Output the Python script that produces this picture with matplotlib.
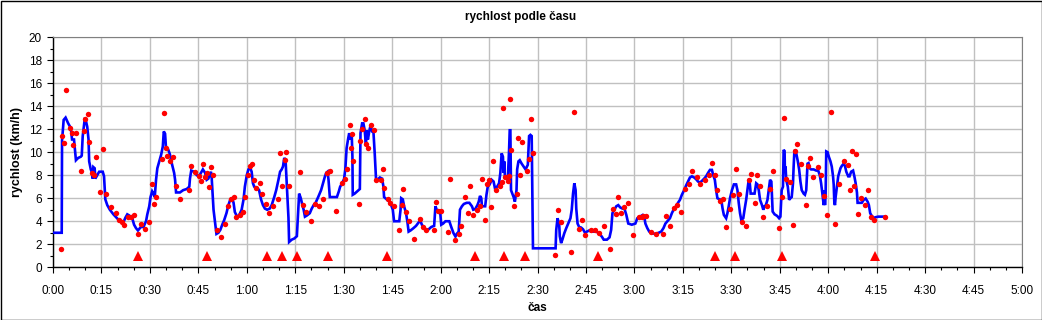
import matplotlib
matplotlib.use("Agg")
import matplotlib.pyplot as plt
from matplotlib.ticker import MultipleLocator, FuncFormatter
from matplotlib.patches import Rectangle

plt.rcParams['font.family'] = ['Liberation Sans', 'DejaVu Sans']

# ---- data: time in minutes, speed in km/h ----
line_points = [
    (0, 3.0), (2.7, 3.0), (2.8, 11.0), (3.3, 12.8), (3.9, 13.0), (4.7, 12.5), (5.5, 12.1), (5.9, 11.1),
    (6.5, 11.1), (7.1, 9.3), (7.8, 9.5), (8.6, 9.6), (8.9, 9.7), (9.2, 11.4), (9.8, 12.8), (10.2, 12.7),
    (10.6, 12.2), (11.0, 11.1), (11.2, 9.2), (11.7, 8.5), (12.1, 8.2), (12.3, 7.7), (12.5, 8.7), (12.9, 8.6),
    (13.1, 7.7), (13.5, 7.9), (14.3, 8.3), (15.4, 8.3), (15.8, 7.9), (16.2, 5.9), (16.8, 5.4), (17.6, 5.0),
    (18.7, 4.6), (19.7, 4.3), (20.7, 4.0), (21.8, 3.9), (22.4, 4.3), (23.0, 4.6), (23.6, 4.5), (24.5, 4.3),
    (25.1, 3.7), (25.7, 3.4), (26.3, 3.2), (27.2, 3.5), (28.0, 3.5), (28.8, 4.0), (29.2, 4.6), (29.8, 5.3),
    (30.2, 6.1), (30.7, 6.6), (31.1, 6.4), (31.5, 6.1), (31.9, 7.6), (32.3, 8.6), (32.9, 9.2), (33.5, 9.8),
    (34.0, 10.5), (34.3, 11.8), (34.7, 11.6), (35.0, 10.3), (35.7, 10.2), (36.2, 9.8), (36.8, 9.0), (37.5, 8.2),
    (37.8, 7.6), (38.1, 6.5), (39.3, 6.5), (40.3, 6.7), (41.4, 6.8), (42.2, 7.0), (42.4, 7.7), (42.8, 8.4),
    (43.7, 8.3), (44.5, 8.0), (45.2, 7.9), (45.8, 8.2), (46.4, 8.5), (47.1, 8.2), (47.6, 7.6), (48.1, 7.7),
    (48.5, 8.0), (48.9, 8.3), (49.1, 7.9), (49.4, 6.4), (49.7, 5.0), (50.2, 3.8), (50.6, 2.9), (51.2, 3.0),
    (51.8, 3.25), (52.4, 3.7), (53.0, 4.1), (53.7, 4.7), (54.3, 5.4), (54.9, 5.9), (55.5, 6.0), (55.9, 5.6),
    (56.3, 4.8), (57.0, 4.4), (57.6, 4.5), (58.4, 5.0), (59.0, 5.9), (59.4, 7.0), (60.0, 8.0), (60.5, 8.5),
    (61.1, 8.6), (61.5, 8.3), (61.9, 7.3), (62.3, 7.0), (63.2, 6.9), (63.8, 6.7), (64.4, 5.9), (65.0, 5.4),
    (65.6, 5.1), (66.3, 5.0), (67.1, 5.1), (67.7, 5.4), (68.5, 6.1), (69.1, 6.7), (69.8, 7.6), (70.3, 8.3),
    (70.8, 8.5), (71.2, 8.75), (71.6, 9.5), (72.0, 9.3), (72.4, 7.0), (72.9, 4.3), (73.1, 2.2), (73.9, 2.4),
    (74.7, 2.5), (75.5, 2.7), (75.7, 3.8), (76.2, 6.4), (76.6, 6.1), (76.8, 5.9), (77.2, 5.4), (77.6, 5.0),
    (78.0, 4.4), (78.6, 4.5), (79.5, 4.7), (80.1, 5.1), (80.7, 5.4), (81.3, 5.6), (82.1, 6.1), (83.0, 6.7),
    (83.6, 7.3), (84.2, 7.9), (84.6, 8.2), (85.0, 8.3), (85.3, 7.6), (85.7, 6.1), (87.9, 6.1), (88.5, 6.6),
    (88.9, 7.0), (89.5, 7.3), (90.1, 7.65), (90.5, 8.5), (90.9, 10.35), (91.4, 11.2), (91.7, 11.65), (92.1, 11.1),
    (92.5, 11.4), (92.7, 9.6), (92.8, 6.3), (93.4, 6.4), (94.2, 6.6), (95.0, 6.8), (95.2, 11.65), (95.7, 12.5),
    (96.1, 12.5), (96.5, 11.9), (96.9, 10.6), (97.1, 11.9), (97.5, 11.1), (97.9, 11.8), (98.3, 12.3), (98.8, 11.8),
    (99.2, 11.8), (99.6, 9.9), (100.0, 7.7), (100.6, 7.65), (101.2, 7.8), (101.9, 7.7), (102.3, 7.0), (102.5, 6.1),
    (103.3, 5.9), (104.1, 5.7), (104.7, 5.4), (105.2, 5.0), (105.6, 4.0), (106.6, 4.0), (107.2, 4.0), (107.6, 5.0),
    (107.8, 6.0), (108.3, 5.9), (108.7, 5.3), (109.3, 4.7), (109.7, 4.0), (110.1, 3.1), (110.7, 3.2), (111.6, 3.4),
    (112.4, 3.6), (113.2, 3.9), (113.8, 4.0), (114.2, 3.7), (114.9, 3.4), (115.5, 3.25), (116.3, 3.3), (117.1, 3.5),
    (118.0, 3.6), (118.4, 5.3), (118.8, 5.0), (119.4, 4.8), (119.8, 5.0), (120.2, 3.7), (120.8, 3.8), (121.5, 4.0),
    (122.1, 4.0), (122.7, 4.0), (123.3, 3.5), (124.0, 2.96), (124.6, 2.67), (125.0, 2.9), (125.6, 3.1), (126.0, 5.0),
    (126.6, 5.3), (127.2, 5.5), (128.1, 5.6), (128.9, 5.6), (129.7, 5.3), (130.1, 5.0), (130.7, 5.05), (131.4, 5.4),
    (131.8, 5.7), (132.2, 6.2), (132.6, 6.0), (132.8, 5.3), (133.8, 5.3), (134.2, 6.3), (134.6, 7.0), (135.2, 7.2),
    (135.8, 7.6), (136.4, 7.45), (136.8, 6.9), (137.5, 7.0), (138.1, 7.3), (138.5, 8.2), (138.9, 9.9), (139.3, 9.6),
    (139.5, 8.2), (139.7, 9.2), (139.9, 7.9), (140.4, 7.9), (140.8, 7.6), (141.2, 10.2), (141.4, 11.9), (141.6, 11.9),
    (141.8, 6.7), (142.2, 6.4), (142.6, 6.1), (143.0, 5.7), (143.5, 6.7), (143.7, 8.5), (144.1, 9.2), (144.5, 9.3),
    (145.1, 9.0), (145.7, 8.75), (146.3, 8.5), (147.0, 8.9), (147.4, 11.4), (147.8, 11.5), (148.2, 11.4), (148.4, 6.7),
    (148.6, 1.65), (155.6, 1.65), (155.8, 3.25), (156.2, 4.26), (156.7, 3.8), (156.9, 2.7), (157.3, 2.1), (157.7, 2.4),
    (158.3, 2.96), (158.9, 3.4), (159.5, 3.8), (160.2, 4.26), (160.6, 5.0), (161.0, 6.4), (161.4, 7.3), (161.8, 6.7),
    (162.0, 5.1), (162.4, 3.8), (162.9, 3.5), (163.5, 3.45), (164.1, 3.3), (164.7, 3.0), (165.3, 3.1), (166.0, 3.2),
    (166.6, 3.1), (167.4, 3.1), (168.2, 3.1), (169.0, 2.96), (169.9, 2.67), (170.5, 2.4), (171.5, 2.4), (172.3, 2.6),
    (172.8, 3.25), (173.2, 4.7), (173.8, 5.0), (174.4, 5.3), (175.0, 5.4), (175.6, 5.2), (176.3, 5.1), (176.9, 5.1),
    (177.5, 4.55), (178.1, 3.8), (179.2, 3.7), (180.3, 3.8), (180.9, 4.26), (181.7, 4.4), (182.6, 4.55), (183.0, 4.46),
    (183.4, 3.8), (184.0, 3.4), (184.6, 3.1), (185.5, 2.96), (186.5, 2.9), (187.5, 3.0), (188.3, 3.1), (189.0, 3.4),
    (189.6, 3.8), (190.4, 4.06), (191.0, 4.26), (191.6, 4.7), (192.3, 5.1), (192.9, 5.3), (193.5, 5.6), (194.1, 5.86),
    (194.7, 6.3), (195.4, 6.7), (196.0, 7.1), (196.6, 7.45), (197.2, 7.8), (197.8, 7.9), (198.5, 7.8), (199.1, 7.65),
    (199.7, 7.45), (200.3, 7.36), (200.9, 7.5), (201.6, 7.7), (202.2, 7.9), (202.8, 8.2), (203.4, 8.46), (204.0, 8.46),
    (204.4, 8.0), (204.9, 7.6), (205.3, 6.7), (205.7, 6.0), (206.3, 5.9), (206.9, 5.86), (207.3, 5.1), (207.7, 4.55),
    (208.4, 4.26), (208.8, 4.7), (209.2, 5.3), (209.6, 6.0), (210.2, 6.7), (210.8, 7.2), (211.5, 7.2), (211.9, 6.7),
    (212.3, 5.6), (212.7, 4.7), (213.1, 4.1), (213.7, 4.26), (214.1, 5.0), (214.6, 5.86), (215.0, 6.7), (215.4, 7.6),
    (215.6, 7.7), (216.0, 6.4), (216.6, 6.4), (217.2, 6.4), (217.7, 7.3), (218.1, 7.2), (218.5, 6.7), (218.9, 5.86),
    (219.5, 5.4), (219.9, 5.0), (220.3, 5.3), (220.7, 5.4), (221.2, 5.86), (221.6, 6.7), (222.0, 7.6), (222.4, 7.45),
    (222.8, 4.84), (223.4, 4.6), (224.2, 4.46), (224.8, 4.26), (225.2, 4.4), (225.6, 6.7), (226.0, 7.0), (226.2, 10.2),
    (226.5, 10.1), (226.6, 8.2), (226.8, 8.75), (227.0, 7.6), (227.5, 7.0), (227.9, 5.86), (228.3, 6.0), (228.7, 6.1),
    (229.1, 7.3), (229.3, 8.75), (229.5, 9.9), (229.7, 10.2), (230.1, 9.9), (230.6, 9.2), (231.0, 8.5), (231.4, 7.45),
    (231.8, 6.7), (232.4, 6.4), (232.8, 6.3), (233.2, 6.7), (233.6, 9.0), (233.9, 9.05), (234.3, 8.6), (234.7, 8.5),
    (235.5, 8.5), (236.3, 8.4), (236.9, 8.4), (237.4, 8.0), (237.8, 7.3), (238.2, 6.4), (238.6, 5.4), (238.8, 6.7),
    (239.0, 5.4), (239.2, 6.4), (239.4, 10.06), (239.8, 10.0), (240.2, 9.6), (240.7, 9.2), (241.1, 8.75), (241.5, 7.9),
    (241.7, 7.2), (241.9, 5.6), (242.1, 5.4), (242.3, 6.1), (242.7, 7.0), (243.1, 7.9), (243.8, 8.6), (244.2, 8.8),
    (244.8, 9.0), (245.2, 8.8), (245.6, 8.3), (246.2, 7.9), (246.6, 7.9), (247.1, 8.3), (247.7, 8.4), (248.1, 7.9),
    (248.5, 7.3), (248.9, 6.5), (249.1, 5.6), (249.7, 5.6), (250.4, 5.6), (251.0, 5.86), (251.6, 5.97), (252.2, 5.7),
    (252.6, 5.4), (253.0, 4.7), (253.5, 4.46), (254.1, 4.3), (254.7, 4.35), (255.5, 4.4), (256.6, 4.4), (257.6, 4.4),
]

dot_points = [
    (2.7, 11.4), (3.3, 10.8), (2.5, 1.6), (3.9, 15.4), (5.3, 12.1), (5.8, 11.7), (6.3, 10.6), (7.1, 11.7),
    (8.6, 8.4), (9.6, 11.8), (9.9, 12.9), (10.7, 13.3), (11.1, 10.9), (12.1, 8.2), (12.7, 8.0), (13.2, 9.6),
    (14.5, 6.5), (15.4, 10.3), (16.3, 6.4), (17.9, 5.2), (19.4, 4.7), (20.4, 4.1), (21.4, 3.9), (21.9, 3.7),
    (23.2, 4.4), (24.0, 4.4), (25.1, 4.5), (26.3, 2.9), (27.2, 3.8), (28.5, 3.3), (29.7, 3.9), (30.7, 7.2),
    (31.3, 5.5), (31.9, 6.1), (33.7, 9.4), (34.4, 13.4), (35.0, 10.4), (35.3, 9.7), (36.2, 9.2), (37.3, 9.6),
    (38.1, 7.1), (39.3, 5.9), (42.1, 6.7), (42.7, 8.8), (44.0, 8.3), (45.2, 7.9),
    (45.7, 7.5), (46.3, 9.0), (47.1, 7.8), (47.7, 8.2), (48.2, 7.0), (48.8, 8.7), (49.5, 8.0), (50.7, 3.2),
    (52.0, 2.6), (53.3, 3.8), (54.1, 5.3), (55.1, 5.9), (56.0, 6.1), (56.6, 4.4), (57.9, 4.5), (58.8, 4.8),
    (59.4, 6.1), (60.3, 8.0), (61.1, 8.8), (61.6, 9.0), (62.2, 7.6), (62.9, 6.9), (64.1, 7.3), (64.8, 6.4),
    (65.8, 5.5), (66.9, 4.7), (68.1, 5.3), (69.7, 5.9), (70.3, 9.9), (70.9, 7.1), (71.7, 9.3), (72.1, 10.0),
    (73.1, 7.1), (76.5, 8.3), (77.4, 5.4), (78.3, 4.8), (79.9, 4.0), (81.1, 5.5), (82.5, 5.3), (83.5, 5.9),
    (84.8, 8.2), (85.8, 8.4), (87.6, 4.9), (89.6, 7.3), (90.4, 7.7),
    (91.0, 8.5), (91.9, 12.4), (92.6, 11.6), (92.3, 10.35), (92.8, 9.2), (94.7, 5.5), (95.0, 11.0), (95.7, 12.0),
    (96.5, 12.9), (96.9, 10.7), (97.5, 10.4), (98.4, 12.4), (99.3, 11.9), (100.0, 7.6), (101.4, 7.6), (102.1, 8.5),
    (102.5, 6.9), (103.6, 5.9), (104.4, 5.6), (105.6, 5.3), (107.1, 3.2), (108.0, 5.4), (108.4, 6.8), (109.2, 4.8),
    (110.1, 4.0), (111.8, 2.5), (113.6, 4.2), (114.4, 3.5), (115.5, 3.25), (118.1, 3.2), (118.6, 5.7), (119.1, 4.9),
    (120.1, 4.9), (122.3, 3.1), (122.9, 7.7), (124.5, 2.4), (125.7, 2.9), (126.2, 3.6), (127.4, 6.1), (128.5, 4.75),
    (129.1, 7.1), (130.0, 4.55), (131.2, 5.0), (132.2, 5.3), (132.8, 7.7), (133.7, 4.1), (134.4, 7.25), (134.9, 7.6),
    (135.6, 5.2), (136.2, 9.2), (137.2, 6.7), (138.3, 7.1), (139.0, 7.45), (139.3, 13.8), (139.9, 7.8), (140.9, 7.5),
    (141.2, 7.9), (141.5, 14.6), (141.8, 10.2), (142.7, 5.3), (143.6, 6.4), (144.0, 11.2), (144.7, 8.0), (145.2, 10.9),
    (146.7, 8.4), (147.3, 9.4), (148.0, 12.9), (148.6, 9.9), (155.3, 1.1), (156.4, 5.0), (157.3, 3.9), (160.4, 1.3),
    (161.2, 13.5), (162.9, 3.3), (163.7, 4.1), (164.7, 2.8), (166.5, 3.25), (167.8, 3.2), (169.0, 3.0), (170.6, 3.6),
    (172.5, 1.6), (173.4, 5.1), (174.3, 4.6), (174.9, 6.1), (175.8, 4.75), (176.8, 5.2), (178.0, 5.6), (179.5, 2.8),
    (181.5, 4.35), (182.3, 4.4), (182.8, 4.46), (183.6, 4.46), (185.1, 3.1), (186.7, 2.9), (188.8, 2.9), (189.8, 4.46),
    (190.9, 3.6), (192.2, 5.16), (193.1, 5.4), (194.4, 4.84), (195.6, 6.8), (196.9, 7.2), (197.8, 8.4), (199.4, 7.8),
    (200.2, 7.2), (201.9, 7.6), (203.1, 8.0), (204.0, 9.1), (205.0, 8.0), (205.6, 6.7), (206.5, 5.8), (207.3, 5.9),
    (208.4, 3.5), (209.6, 5.1), (210.5, 6.3), (211.5, 8.5), (212.4, 6.4), (213.3, 3.9), (214.6, 3.6), (215.6, 7.6),
    (216.1, 8.1), (217.3, 5.6), (218.0, 8.0), (218.9, 7.1), (219.8, 4.4), (221.1, 5.3), (222.0, 6.8), (222.9, 8.4),
    (224.9, 3.4), (225.8, 6.1), (226.3, 13.0), (226.9, 7.7), (228.1, 7.4), (229.0, 3.7), (229.7, 10.06), (230.2, 10.7),
    (231.5, 9.0), (233.1, 5.4), (233.7, 8.8), (234.4, 9.5), (235.3, 7.8), (236.7, 8.7), (237.8, 8.0), (238.6, 6.2),
    (239.5, 4.5), (240.8, 13.45), (242.1, 3.8), (243.4, 7.2), (244.8, 9.2), (246.1, 8.9), (246.8, 6.75), (247.4, 10.06),
    (248.0, 7.1), (248.6, 9.8), (249.1, 4.67), (250.2, 6.06), (251.3, 5.45), (252.3, 6.75), (253.1, 4.4), (254.1, 4.15),
    (257.6, 4.4),
]

marker_times = [26.4, 47.8, 66.3, 71.0, 75.5, 85.2, 103.3, 130.6, 139.7, 146.2, 168.8, 205.1, 211.3, 225.8, 254.5]
marker_level = 1.0

title_text = "rychlost podle času"
x_label = "čas"
y_label = "rychlost (km/h)"

# ---- figure ----
W, H = 1042, 320
fig = plt.figure(figsize=(W / 100, H / 100), dpi=100)
fig.patch.set_facecolor('white')
ax = fig.add_axes([53 / W, 1 - 267.3 / H, (1022 - 53) / W, (267.3 - 37) / H])

lt = [p[0] for p in line_points]
lv = [p[1] for p in line_points]
dt = [p[0] for p in dot_points]
dv = [p[1] for p in dot_points]

ax.plot(lt, lv, color='#0000ff', lw=1.9, zorder=3, solid_joinstyle='miter')
ax.plot(dt, dv, linestyle='none', marker='o', ms=3.9, mew=0, color='#ff0000', zorder=4)
ax.plot(marker_times, [marker_level] * len(marker_times), linestyle='none', marker='^', ms=7, mew=0,
        color='#ff0000', zorder=4)

ax.set_xlim(0, 300)
ax.set_ylim(0, 20)
ax.xaxis.set_major_locator(MultipleLocator(15))
ax.xaxis.set_minor_locator(MultipleLocator(5))
ax.yaxis.set_major_locator(MultipleLocator(2))
ax.yaxis.set_minor_locator(MultipleLocator(1))
ax.xaxis.set_major_formatter(FuncFormatter(lambda v, p: "%d:%02d" % (int(round(v)) // 60, int(round(v)) % 60)))
ax.yaxis.set_major_formatter(FuncFormatter(lambda v, p: "%d" % v))

ax.grid(True, which='major', color='#c0c0c0', lw=1.0, zorder=0)
ax.set_axisbelow(True)
for s in ['top', 'right']:
    ax.spines[s].set_color('#808080')
    ax.spines[s].set_linewidth(0.8)
for s in ['left', 'bottom']:
    ax.spines[s].set_color('black')
    ax.spines[s].set_linewidth(1.0)

ax.tick_params(axis='both', which='major', length=4, width=0.8, labelsize=8.5, color='black')
ax.tick_params(axis='both', which='minor', length=2.5, width=0.8, color='black')
ax.tick_params(axis='x', which='major', pad=9)
ax.tick_params(axis='y', which='major', pad=4)

ax.set_xlabel(x_label, fontsize=8.5, fontweight='bold', labelpad=3)
ax.set_ylabel(y_label, fontsize=9, fontweight='bold', labelpad=4)
fig.text(0.5, 1 - 17 / H, title_text, ha='center', va='center', fontsize=8.5, fontweight='bold')

fig.add_artist(Rectangle((0.5 / W, 0.5 / H), 1 - 1 / W, 1 - 1 / H, transform=fig.transFigure,
                         fill=False, edgecolor='black', lw=1.0))

fig.savefig("out.png", dpi=100)
